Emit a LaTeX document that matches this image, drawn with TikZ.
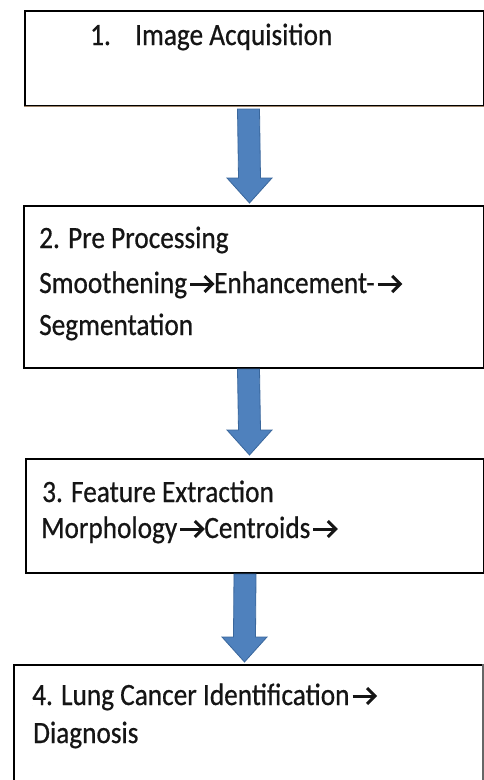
\documentclass[tikz,border=0pt]{standalone}
\usepackage{fontspec}
\setmainfont[FakeStretch=0.88, FakeBold=0.6]{Carlito}
\usetikzlibrary{calc}

\definecolor{arrowblue}{HTML}{4F81BD}
\definecolor{arrowedge}{HTML}{3A679C}
\definecolor{textink}{HTML}{151515}

% small inline arrow used inside the step texts
\newcommand{\ra}{\kern1.5pt\tikz[baseline=0pt, x=1pt, y=1pt]{%
  \draw[textink, line width=3pt] (1,9) -- (23,9);
  \draw[textink, line width=3pt, line join=miter] (15.5,17) -- (23.5,9) -- (15.5,1);}}

\tikzset{
  stepbox/.style={draw=black, line width=1.6pt, fill=white, rectangle,
    anchor=north west, inner sep=0pt},
  sideedge/.style={draw=black!25, line width=1.4pt},
  steptext/.style={anchor=base west, inner sep=0pt, text=textink,
    font=\fontsize{31}{31}\selectfont},
  blockarrow/.style={fill=arrowblue, draw=arrowedge, line width=0.8pt, line join=miter},
}

% block arrow from a named top coordinate down to a named tip coordinate
\newcommand{\blockarrow}[2]{%
  \path[blockarrow]
    ($(#1)+(-11,0)$) -- ($(#1)+(11,0)$) -- ($(#2)+(11,-25)$) -- ($(#2)+(22.5,-25)$)
    -- (#2) -- ($(#2)+(-22.5,-25)$) -- ($(#2)+(-11,-25)$) -- cycle;}

\begin{document}
\begin{tikzpicture}[x=1pt,y=-1pt]
\useasboundingbox (0,0) rectangle (484,780);
\clip (0,0) rectangle (484,780);

% step boxes
\node[stepbox, minimum width=459pt, minimum height=95pt] (b1) at (24,10) {};
\draw[line width=1.6pt, draw=brown!60!black!70] (b1.south west) -- (b1.south east);
\draw[sideedge] (b1.north east) -- (b1.south east);

\node[stepbox, minimum width=460pt, minimum height=162pt] (b2) at (23,205) {};
\draw[sideedge] (b2.north east) -- (b2.south east);

\node[stepbox, minimum width=458pt, minimum height=114pt] (b3) at (25,458) {};
\draw[sideedge] (b3.north east) -- (b3.south east);

\node[stepbox, minimum width=469pt, minimum height=140pt] (b4) at (13,664) {};
\draw[draw=black!60, line width=3pt] (b4.north east) -- (b4.south east);

% texts
\node[steptext] (t1a) at (90,45) {1.};
\node[steptext] (t1b) at (135,45) {Image Acquisition};

\node[steptext] (t2a) at (39,248) {2. Pre Processing};
\node[steptext] (t2b) at (39,293) {Smoothening\ra Enhancement-\ra};
\node[steptext] (t2c) at (39,335) {Segmentation};

\node[steptext] (t3a) at (42,502) {3. Feature Extraction};
\node[steptext] (t3b) at (41,538) {Morphology\ra Centroids\ra};

\node[steptext] (t4a) at (32,705) {4. Lung Cancer Identification\ra};
\node[steptext] (t4b) at (33,743) {Diagnosis};

% connectors between the steps
\coordinate (a1top) at (248.5,109);
\coordinate (a1tip) at (249.5,203);
\coordinate (a2top) at (248.5,369);
\coordinate (a2tip) at (249.5,455);
\coordinate (a3top) at (245,574);
\coordinate (a3tip) at (244.5,662);
\blockarrow{a1top}{a1tip}
\blockarrow{a2top}{a2tip}
\blockarrow{a3top}{a3tip}
\end{tikzpicture}
\end{document}
